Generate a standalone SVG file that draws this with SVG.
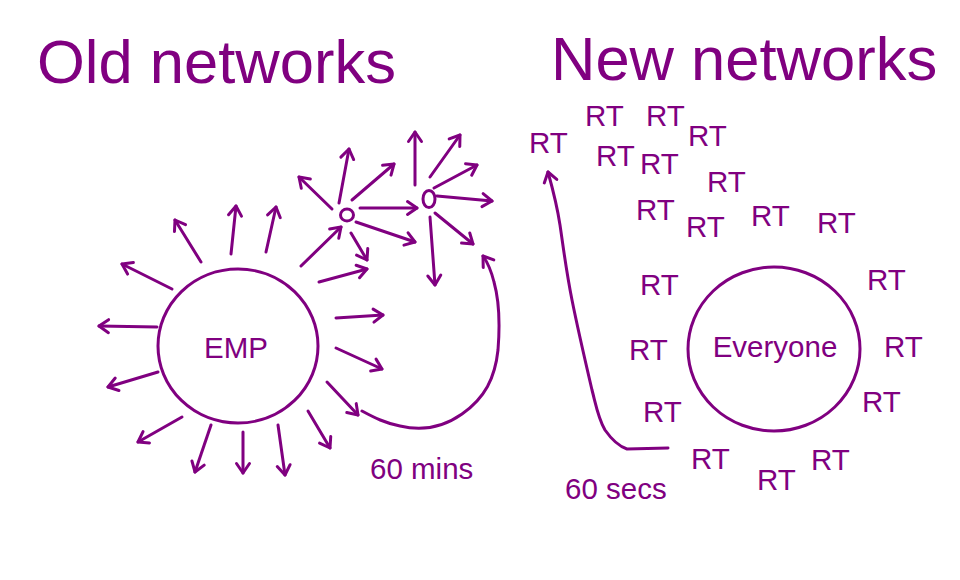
<svg xmlns="http://www.w3.org/2000/svg" width="960" height="580" viewBox="0 0 960 580">
<style>
.t{font-family:"Liberation Sans",Arial,Helvetica,sans-serif;fill:#800080}
.title{font-size:61.5px}
.lbl{font-size:29.5px}
.ln{fill:none;stroke:#800080;stroke-width:3;stroke-linecap:round;stroke-linejoin:round}
.arr{marker-end:url(#ah)}
.nd{fill:#fff;stroke:#800080;stroke-width:3}
</style>
<defs>
<marker id="ah" markerUnits="userSpaceOnUse" viewBox="-12 -8 14 16" refX="0" refY="0" markerWidth="14" markerHeight="16" orient="auto" overflow="visible">
<path d="M-9.5,-6.5 L0,0 L-9.5,6.5" fill="none" stroke="#800080" stroke-width="3" stroke-linecap="round" stroke-linejoin="round"/>
</marker>
</defs>
<rect width="960" height="580" fill="#fff"/>
<text class="t title" x="37" y="83">Old networks</text>
<text class="t title" x="551" y="80">New networks</text>

<g id="connectors">
<!-- EMP rays -->
<path class="ln arr" d="M201,262 L175,220"/>
<path class="ln arr" d="M231,254 L236,206"/>
<path class="ln arr" d="M266,252 L276,207"/>
<path class="ln arr" d="M172,289 L122,264"/>
<path class="ln arr" d="M157,327 L99,326"/>
<path class="ln arr" d="M158,372 L108,387"/>
<path class="ln arr" d="M182,417 L138,442"/>
<path class="ln arr" d="M211,425 L195,472"/>
<path class="ln arr" d="M243,432 L243,473"/>
<path class="ln arr" d="M278,425 L285,475"/>
<path class="ln arr" d="M308,411 L330,448"/>
<path class="ln arr" d="M327,382 L358,415"/>
<path class="ln arr" d="M336,348 L382,369"/>
<path class="ln arr" d="M336,318 L383,315"/>
<path class="ln arr" d="M319,282 L367,269"/>
<path class="ln arr" d="M301,266 L341,227"/>
<!-- node 1 rays -->
<path class="ln arr" d="M332,209 L299,177"/>
<path class="ln arr" d="M339,203 L349,149"/>
<path class="ln arr" d="M352,200 L394,164"/>
<path class="ln arr" d="M360,208 L417,208"/>
<path class="ln arr" d="M356,222 L415,242"/>
<path class="ln arr" d="M351,233 L367,260"/>
<!-- node 2 rays -->
<path class="ln arr" d="M415,185 L415,132"/>
<path class="ln arr" d="M430,177 L460,135"/>
<path class="ln arr" d="M434,188 L477,165"/>
<path class="ln arr" d="M437,196 L492,201"/>
<path class="ln arr" d="M435,213 L473,244"/>
<path class="ln arr" d="M430,217 L435,285"/>
<!-- 60 mins loop -->
<path class="ln arr" d="M362,411 C375,418 385,423 400,426 C425,432 445,426 462,414 C485,398 495,378 498,350 C500,325 499,300 494,282 C491,270 488,263 483,256"/>
<!-- 60 secs loop -->
<path class="ln arr" d="M668,448 L627,449 C618,446 612,440 605,430 C598,418 596,405 592,390 C585,360 578,330 572,300 C566,270 563,245 560,225 C557,205 553,190 548,172"/>
</g>

<g id="emp"><ellipse class="nd" cx="238" cy="346" rx="80" ry="77"/><text class="t lbl" x="236" y="358" text-anchor="middle">EMP</text></g>
<g id="node1"><ellipse class="nd" cx="347" cy="215" rx="6.5" ry="6"/></g>
<g id="node2"><ellipse class="nd" cx="429" cy="199" rx="6" ry="8.5"/></g>
<g id="everyone"><ellipse class="nd" cx="774" cy="349" rx="86" ry="82"/><text class="t lbl" x="775" y="357" text-anchor="middle">Everyone</text></g>

<g id="rts" class="t lbl">
<text id="rt1" x="529" y="153">RT</text>
<text id="rt2" x="585" y="126">RT</text>
<text id="rt3" x="646" y="126">RT</text>
<text id="rt4" x="688" y="146">RT</text>
<text id="rt5" x="596" y="166">RT</text>
<text id="rt6" x="640" y="174">RT</text>
<text id="rt7" x="707" y="192">RT</text>
<text id="rt8" x="636" y="220">RT</text>
<text id="rt9" x="686" y="237">RT</text>
<text id="rt10" x="751" y="226">RT</text>
<text id="rt11" x="817" y="233">RT</text>
<text id="rt12" x="640" y="295">RT</text>
<text id="rt13" x="629" y="360">RT</text>
<text id="rt14" x="643" y="422">RT</text>
<text id="rt15" x="691" y="469">RT</text>
<text id="rt16" x="757" y="490">RT</text>
<text id="rt17" x="811" y="470">RT</text>
<text id="rt18" x="862" y="412">RT</text>
<text id="rt19" x="884" y="357">RT</text>
<text id="rt20" x="867" y="290">RT</text>
</g>
<text class="t lbl" x="370" y="479">60 mins</text>
<text class="t lbl" x="565" y="499">60 secs</text>
</svg>
